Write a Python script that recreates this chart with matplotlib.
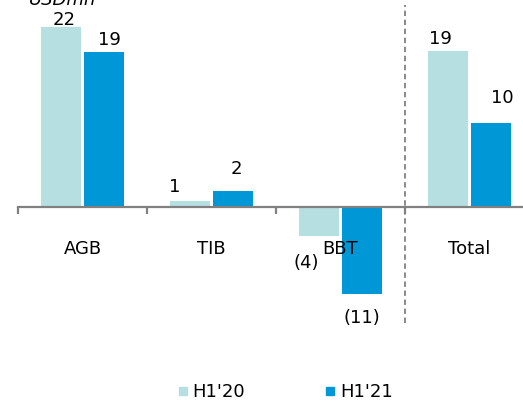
import matplotlib.pyplot as plt
import numpy as np
from matplotlib.lines import Line2D

plt.rcParams["font.family"] = ["DejaVu Sans"]

categories = ["AGB", "TIB", "BBT", "Total"]
series_names = ["H1'20", "H1'21"]
h1_20 = [22.1, 0.7, -3.5, 19.2]
h1_21 = [19.0, 2.0, -10.6, 10.3]
labels_20 = ["22", "1", "(4)", "19"]
labels_21 = ["19", "2", "(11)", "10"]
unit = "USDmn"

# label nudges in pixels (dx, distance from bar end), as placed in the source chart
nudge_20 = [(3.5, 2), (-15.5, 9), (-13, 27), (-7.5, 7)]
nudge_21 = [(5, 7), (3, 17), (0, 24), (11, 20)]

LIGHT = "#b6dfe2"
DARK = "#0097d6"
GREY = "#808080"
PT = 0.72  # points per pixel at dpi 100

fig = plt.figure(figsize=(5.23, 4.01), dpi=100)
ax = fig.add_axes([18 / 523, 78 / 401, 505 / 523, 323 / 401])

x = np.arange(len(categories))
width = 0.31
off = 0.168
b1 = ax.bar(x - off, h1_20, width, color=LIGHT, zorder=1)
b2 = ax.bar(x + off, h1_21, width, color=DARK, zorder=1)

for bars, labs, nudges in [(b1, labels_20, nudge_20), (b2, labels_21, nudge_21)]:
    for rect, lab, (dx, dy) in zip(bars, labs, nudges):
        h = rect.get_height()
        cx = rect.get_x() + rect.get_width() / 2
        if h >= 0:
            ax.annotate(lab, (cx, h), xytext=(dx * PT, dy * PT), textcoords="offset points",
                        ha="center", va="baseline", fontsize=13)
        else:
            ax.annotate(lab, (cx, h), xytext=(dx * PT, -dy * PT),
                        textcoords="offset points", ha="center", va="center", fontsize=13)

for s in ["top", "right", "left"]:
    ax.spines[s].set_visible(False)
ax.spines["bottom"].set_position(("data", 0))
ax.spines["bottom"].set_color(GREY)
ax.spines["bottom"].set_linewidth(1.6)
ax.spines["bottom"].set_zorder(3)

ax.set_yticks([])
ax.set_xticks(np.arange(-0.5, len(categories), 1.0))
ax.set_xticklabels([])
ax.tick_params(axis="x", which="major", length=5, width=1.6, color=GREY)
ax.set_xticks(x, minor=True)
ax.set_xticklabels(categories, minor=True, fontsize=13)
ax.tick_params(axis="x", which="minor", length=0, pad=23.5)

ax.set_xlim(-0.5, -0.5 + 505 / 129)
ax.set_ylim(-14.2, 25.4)

ax.axvline(2.5, ymin=0, ymax=0.985, color=GREY, linestyle=(0, (3, 2)), linewidth=1.3)

fig.text(63 / 523, 1 - 5 / 401, unit, fontsize=13, style="italic", ha="center", va="baseline")

handles = [Line2D([], [], marker="s", linestyle="none", markersize=6, color=c) for c in (LIGHT, DARK)]
fig.legend(handles, series_names, loc="center", bbox_to_anchor=(285 / 523, 1 - 392 / 401),
           ncol=2, frameon=False, fontsize=13, handlelength=0.6, handletextpad=0.25,
           columnspacing=4.4)

fig.savefig("out.png", dpi=100)
